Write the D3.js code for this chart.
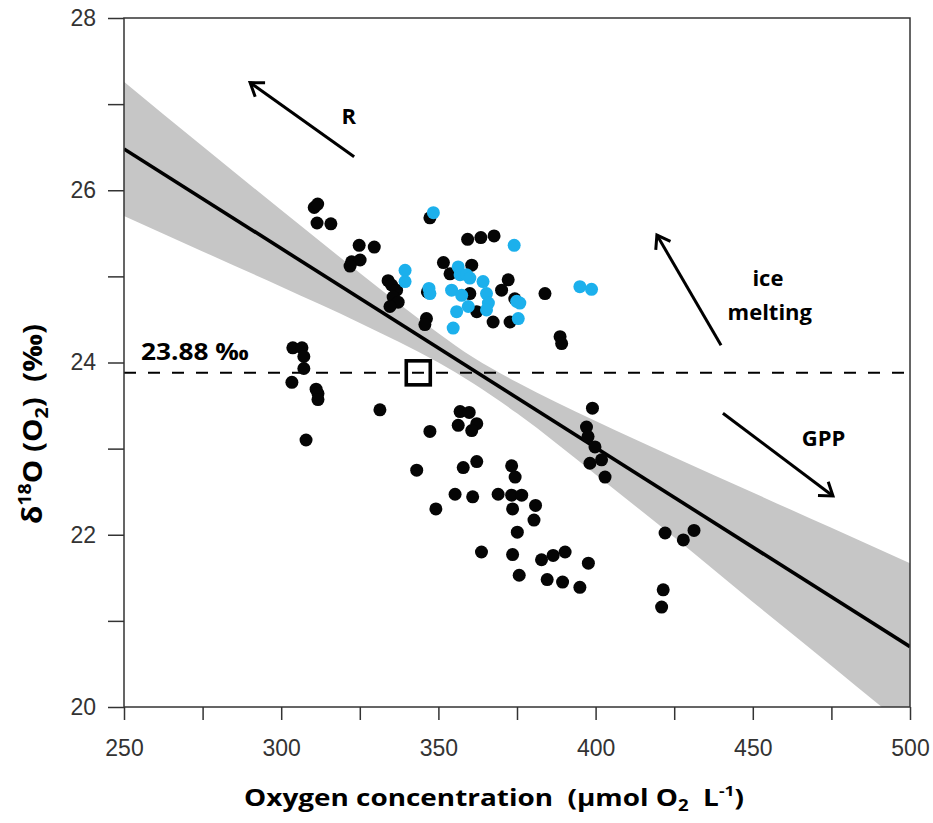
<!DOCTYPE html>
<html>
<head>
<meta charset="utf-8">
<script src="https://cdn.jsdelivr.net/npm/d3@7"></script>
<style>
  html, body { margin: 0; padding: 0; background: #fff; }
  svg { display: block; }
  text { white-space: pre; }
</style>
</head>
<body>
<div id="chart"></div>
<script>
// ---------- data ----------
const xTicks = [250, 275, 300, 325, 350, 375, 400, 425, 450, 475, 500];
const xTickLabels = ["250", "", "300", "", "350", "", "400", "", "450", "", "500"];
const yTicks = [20, 21, 22, 23, 24, 25, 26, 27, 28];
const yTickLabels = ["20", "", "22", "", "24", "", "26", "", "28"];

// black points (oxygen, d18O)
const blackX = [303.7,306.6,307.2,307.2,303.4,311.1,311.7,311.7,307.9,331.4,
  310.5,311.6,311.4,315.8,324.8,329.6,322.4,325.1,321.9,334.0,335.1,336.7,335.6,337.2,334.6,346.2,345.7,347.3,
  351.6,353.7,360.6,359.3,363.5,367.7,360.0,362.2,367.4,372.2,370.1,374.3,372.8,383.9,388.7,389.2,346.5,
  356.9,359.8,356.3,362.2,360.6,347.3,343.1,357.9,362.2,373.3,374.4,355.3,360.9,369.0,373.3,376.5,373.6,380.9,380.4,349.2,375.1,363.7,373.6,382.8,375.7,384.6,386.5,390.3,397.7,389.5,395.0,
  399.0,397.1,397.6,399.8,401.9,398.2,403.0,422.1,427.9,431.3,421.5,421.0];
const blackY = [24.17,24.17,24.07,23.93,23.77,23.69,23.64,23.57,23.10,23.45,
  25.80,25.84,25.62,25.61,25.36,25.34,25.17,25.19,25.12,24.95,24.90,24.84,24.76,24.70,24.65,24.51,24.44,25.68,
  25.16,25.03,25.13,25.43,25.45,25.47,24.80,24.59,24.47,24.96,24.84,24.74,24.47,24.80,24.30,24.22,24.82,
  23.43,23.42,23.27,23.29,23.21,23.20,22.75,22.78,22.85,22.80,22.67,22.47,22.44,22.47,22.46,22.46,22.30,22.34,22.17,22.30,22.03,21.80,21.77,21.71,21.53,21.48,21.76,21.80,21.67,21.45,21.39,
  23.47,23.25,23.14,23.02,22.87,22.83,22.67,22.02,21.94,22.05,21.36,21.16];

// blue points
const blueX = [348.4,339.4,339.4,347.0,347.3,354.2,356.3,356.9,358.9,360.0,364.2,357.4,355.8,359.5,365.3,365.9,365.3,374.9,375.9,375.4,354.7,395.0,398.7,374.1];
const blueY = [25.74,25.07,24.94,24.86,24.80,24.84,25.11,25.02,25.02,24.98,24.94,24.78,24.59,24.65,24.80,24.69,24.61,24.71,24.69,24.51,24.40,24.88,24.85,25.36];

// regression line and confidence band
const fitX = [250, 500];
const fitY = [26.48, 20.70];
const bandX = [250, 275, 300, 325, 350, 361, 375, 400, 425, 450, 475, 500];
const bandUpper = [27.26, 26.51, 25.77, 25.04, 24.34, 24.06, 23.77, 23.32, 22.90, 22.49, 22.08, 21.67];
const bandLower = [25.70, 25.29, 24.88, 24.46, 24.00, 23.76, 23.41, 22.70, 21.97, 21.22, 20.48, 19.73];

// reference level and marker
const refLevel = 23.88;
const refLabel = "23.88 \u2030";
const markerX = [343.6];
const markerY = [23.88];

// annotation arrows: tail -> head (data units)
const arrowTails = [[323.2, 26.39], [439.9, 24.20], [440.5, 23.41]];
const arrowHeads = [[290.1, 27.25], [419.5, 25.48], [475.5, 22.45]];
const annoText = ["R", "ice", "melting", "GPP"];
const annoPos = [[321.5, 26.87], [454.8, 24.99], [455.4, 24.60], [472.5, 23.13]];

// ---------- chart ----------
const W = 933, H = 823;
const svg = d3.select("#chart").append("svg").attr("width", W).attr("height", H);

const x = d3.scaleLinear().domain([250, 500]).range([124, 910]);
const y = d3.scaleLinear().domain([20, 28]).range([707, 18]);

svg.append("defs").append("clipPath").attr("id", "plotclip")
  .append("rect").attr("x", 124).attr("y", 18).attr("width", 786).attr("height", 689);

const plot = svg.append("g").attr("clip-path", "url(#plotclip)");

// band
const bandData = bandX.map((d, i) => ({x: d, lo: bandLower[i], hi: bandUpper[i]}));
plot.append("path")
  .datum(bandData)
  .attr("fill", "#c6c6c6")
  .attr("d", d3.area().curve(d3.curveMonotoneX).x(d => x(d.x)).y0(d => y(d.lo)).y1(d => y(d.hi)));

// regression line
plot.append("path")
  .datum(fitX.map((d, i) => [d, fitY[i]]))
  .attr("fill", "none").attr("stroke", "#000").attr("stroke-width", 3.6)
  .attr("d", d3.line().x(d => x(d[0])).y(d => y(d[1])));

// dashed reference line
plot.append("line")
  .attr("x1", x(250)).attr("x2", x(500))
  .attr("y1", y(refLevel)).attr("y2", y(refLevel))
  .attr("stroke", "#000").attr("stroke-width", 2)
  .attr("stroke-dasharray", "12,12");

// points
plot.append("g").selectAll("circle")
  .data(blackX.map((d, i) => [d, blackY[i]]))
  .join("circle")
  .attr("cx", d => x(d[0])).attr("cy", d => y(d[1])).attr("r", 6.5)
  .attr("fill", "#050505");

plot.append("g").selectAll("circle")
  .data(blueX.map((d, i) => [d, blueY[i]]))
  .join("circle")
  .attr("cx", d => x(d[0])).attr("cy", d => y(d[1])).attr("r", 6.5)
  .attr("fill", "#1cb0ec");

// open square marker
plot.append("g").selectAll("rect")
  .data(markerX.map((d, i) => [d, markerY[i]]))
  .join("rect")
  .attr("x", d => x(d[0]) - 12).attr("y", d => y(d[1]) - 12)
  .attr("width", 24).attr("height", 24)
  .attr("fill", "none").attr("stroke", "#000").attr("stroke-width", 3.6);

// axes
const axisColor = "#333";
const gx = svg.append("g").attr("transform", "translate(0,707)")
  .call(d3.axisBottom(x).tickValues(xTicks).tickFormat((d, i) => xTickLabels[i])
    .tickSize(13).tickSizeOuter(0).tickPadding(20));
const gy = svg.append("g").attr("transform", "translate(124,0)")
  .call(d3.axisLeft(y).tickValues(yTicks).tickFormat((d, i) => yTickLabels[i])
    .tickSize(16).tickSizeOuter(0).tickPadding(12));
[gx, gy].forEach(g => {
  g.select(".domain").remove();
  g.selectAll("line").attr("stroke", axisColor).attr("stroke-width", 1.5);
  g.selectAll("text").attr("fill", "#333").attr("font-family", "'Liberation Sans', Arial, sans-serif").attr("font-size", 23);
});

// frame
svg.append("rect").attr("x", 124).attr("y", 18).attr("width", 786).attr("height", 689)
  .attr("fill", "none").attr("stroke", axisColor).attr("stroke-width", 1.5);

// arrows
const arrowG = svg.append("g");
arrowTails.forEach((t, i) => {
  const x1 = x(t[0]), y1 = y(t[1]);
  const x2 = x(arrowHeads[i][0]), y2 = y(arrowHeads[i][1]);
  const ang = Math.atan2(y2 - y1, x2 - x1);
  const L = 15, a = Math.PI / 5.2;
  arrowG.append("line").attr("x1", x1).attr("y1", y1).attr("x2", x2).attr("y2", y2)
    .attr("stroke", "#000").attr("stroke-width", 3);
  arrowG.append("path")
    .attr("d", `M${x2 - L * Math.cos(ang - a)},${y2 - L * Math.sin(ang - a)} L${x2},${y2} L${x2 - L * Math.cos(ang + a)},${y2 - L * Math.sin(ang + a)}`)
    .attr("fill", "none").attr("stroke", "#000").attr("stroke-width", 3)
    .attr("stroke-linejoin", "miter").attr("stroke-linecap", "butt");
});

const boldFont = "'Open Sans', Lato, sans-serif";

// horizontal fit helper: squeeze/stretch a text group to a target width
function fitWidth(sel, target, baseTransform) {
  const w = sel.node().getBBox().width;
  const s = target / w;
  sel.attr("transform", `${baseTransform} scale(${s},1)`);
}

// annotation labels
annoText.forEach((t, i) => {
  svg.append("text")
    .attr("x", x(annoPos[i][0])).attr("y", y(annoPos[i][1]))
    .attr("text-anchor", "middle").attr("dominant-baseline", "central")
    .attr("font-family", boldFont).attr("font-weight", "bold").attr("font-size", 22)
    .attr("fill", "#000").text(t);
});

// reference label
const rl = svg.append("text")
  .attr("x", 0).attr("y", 0)
  .attr("font-family", boldFont).attr("font-weight", "bold").attr("font-size", 24)
  .attr("fill", "#000").text(refLabel);
fitWidth(rl, 108, `translate(${x(255.4)},360)`);

// x axis title
const xt = svg.append("text")
  .attr("x", 0).attr("y", 0).attr("text-anchor", "middle")
  .attr("font-family", boldFont).attr("font-weight", "bold").attr("font-size", 24).attr("fill", "#000");
xt.append("tspan").text("Oxygen concentration  (\u00b5mol O");
xt.append("tspan").attr("font-size", 16).attr("dy", 5).text("2");
xt.append("tspan").attr("dy", -5).text("  L");
xt.append("tspan").attr("font-size", 15).attr("dy", -10).text("-1");
xt.append("tspan").attr("dy", 10).text(")");
fitWidth(xt, 500, "translate(494,806)");

// y axis title
const yt = svg.append("text")
  .attr("x", 0).attr("y", 0).attr("text-anchor", "middle")
  .attr("font-family", boldFont).attr("font-weight", "bold").attr("font-size", 27).attr("fill", "#000");
yt.append("tspan").text("\u03b4");
yt.append("tspan").attr("font-size", 18).attr("dy", -11).text("18");
yt.append("tspan").attr("dy", 11).text("O (O");
yt.append("tspan").attr("font-size", 18).attr("dy", 6).text("2");
yt.append("tspan").attr("dy", -6).text(")  (\u2030)");
fitWidth(yt, 200, "translate(42,424) rotate(-90)");
</script>
</body>
</html>
